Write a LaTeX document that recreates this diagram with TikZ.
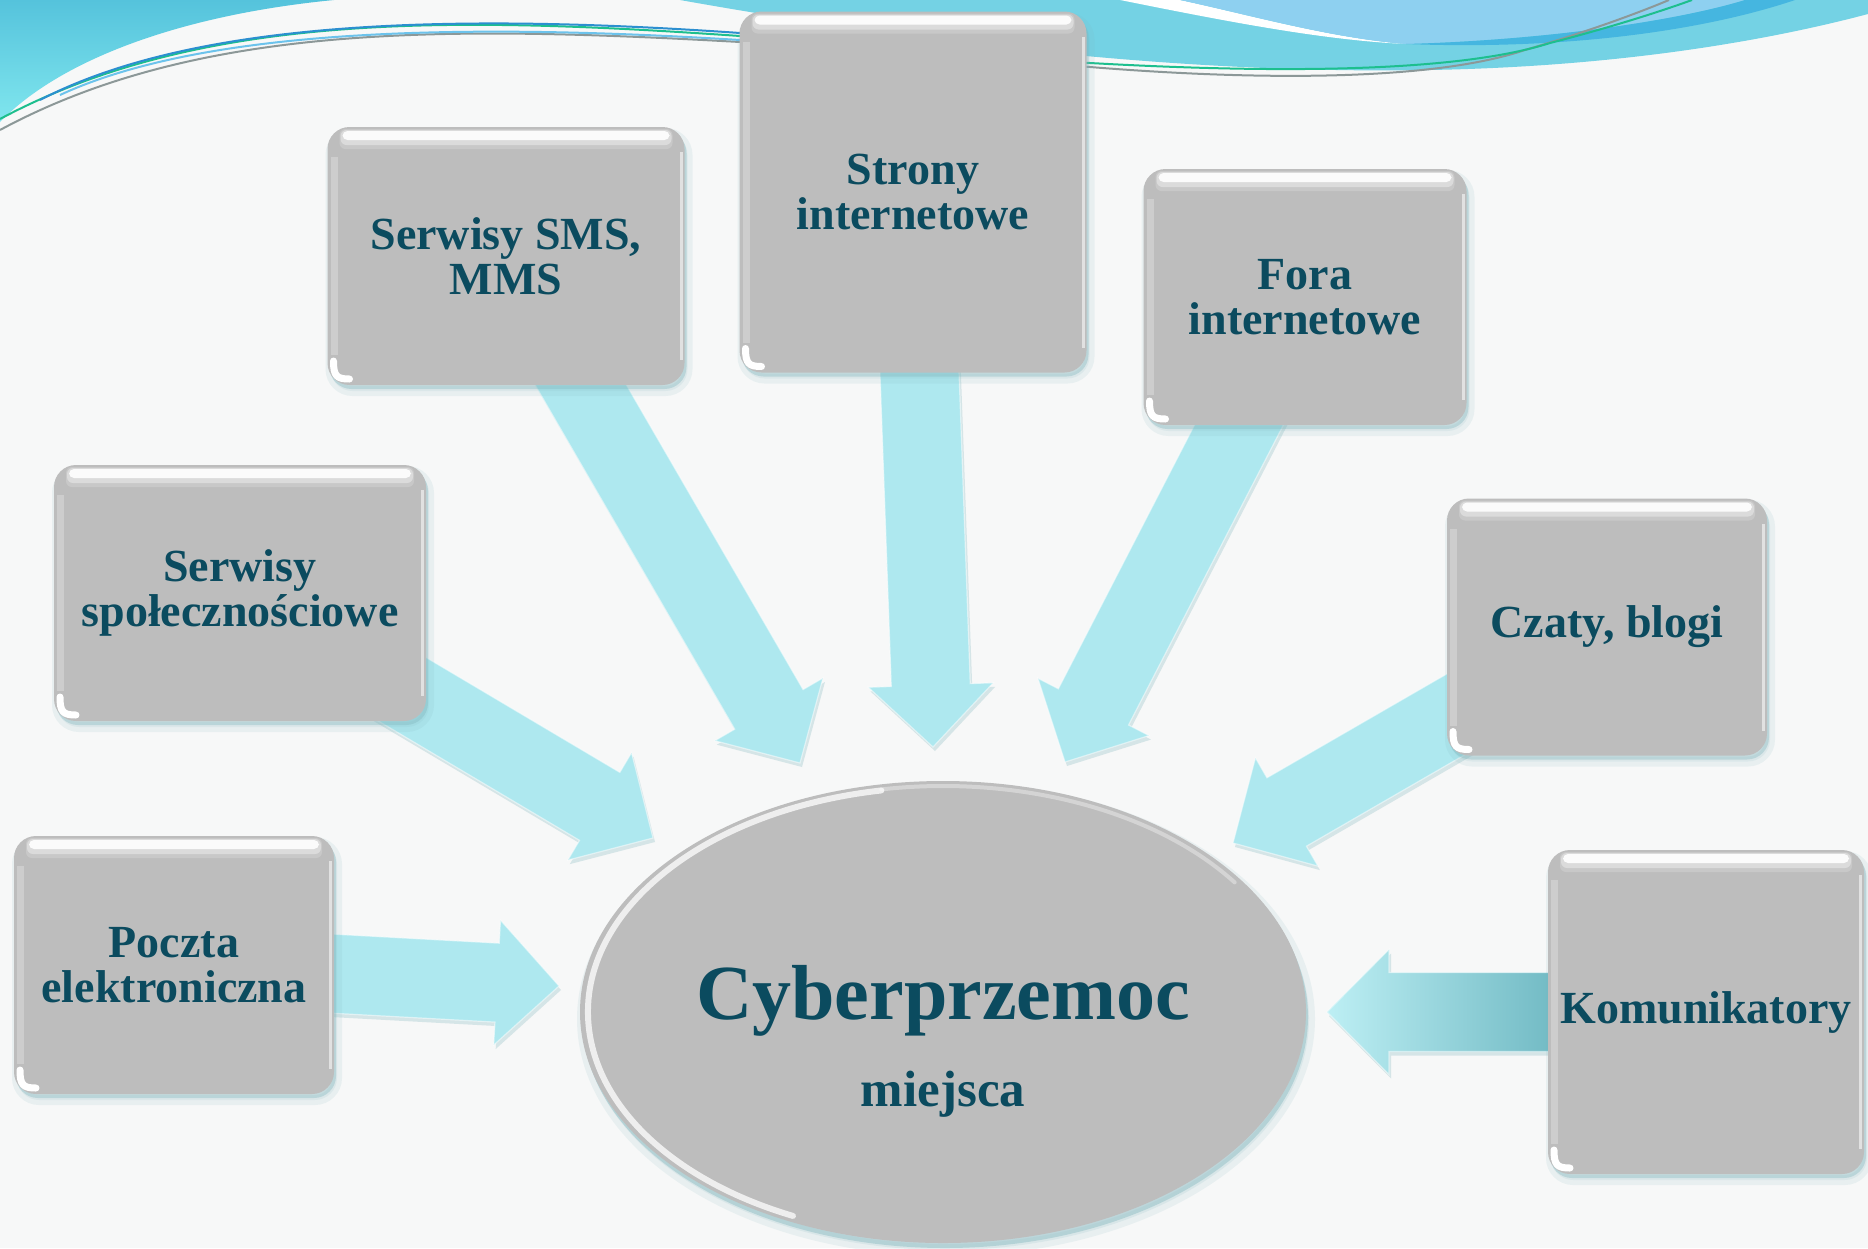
\documentclass[tikz,border=0pt]{standalone}
\usepackage{fontspec}
\setmainfont{Liberation Serif}
\usetikzlibrary{calc,shapes.geometric}
\pgfdeclarelayer{bg}
\pgfdeclarelayer{arr}
\pgfsetlayers{bg,arr,main}
\definecolor{bgcol}{HTML}{F7F8F8}
\definecolor{boxgray}{HTML}{BDBDBD}
\definecolor{txtcol}{HTML}{0B4B5F}
\definecolor{arrcol}{HTML}{AEE8EF}
\definecolor{shadowcol}{HTML}{7FB4BC}
\definecolor{wavecyan}{HTML}{74D2E4}
\definecolor{wavetop}{HTML}{55C3DC}
\definecolor{wavelow}{HTML}{80E6EE}
\definecolor{wavelblue}{HTML}{8ED0F0}
\definecolor{wavedblue}{HTML}{45B6E0}
\definecolor{linegreen}{HTML}{1DBF8E}
\definecolor{linegrey}{HTML}{8C9898}
\definecolor{lineblue}{HTML}{2C8FD0}
\definecolor{linelblue}{HTML}{6CC3EC}
\definecolor{komlight}{HTML}{BDEFF4}
\definecolor{komdark}{HTML}{3F97A4}

\newcommand{\fatarrow}[3][]{%
  \path ($(#3)!62pt!(#2)$) coordinate (hb);
  \path[arrowstyle,#1] ($(#2)!39.5pt!-90:(#3)$) -- ($(hb)!39.5pt!90:(#2)$) -- ($(hb)!62.5pt!90:(#2)$) -- (#3) -- ($(hb)!62.5pt!-90:(#2)$) -- ($(hb)!39.5pt!-90:(#2)$) -- ($(#2)!39.5pt!90:(#3)$) -- cycle;
}

\begin{document}
\begin{tikzpicture}[x=1pt,y=-1pt,
  arrowstyle/.style={fill=arrcol, draw=white, draw opacity=0.5, line width=1.2pt, line join=miter,
    preaction={fill=shadowcol, fill opacity=0.28, draw=none, transform canvas={shift={(2pt,-4pt)}}}},
  box/.style={rectangle, rounded corners=22pt, fill=boxgray, text=txtcol, align=center,
    font=\bfseries\fontsize{46pt}{45pt}\selectfont, inner sep=4pt,
    preaction={fill=shadowcol, fill opacity=0.12, draw=shadowcol, draw opacity=0.12, line width=10pt, transform canvas={shift={(3pt,-6pt)}}},
    preaction={fill=shadowcol, fill opacity=0.35, draw=none, transform canvas={shift={(2pt,-4pt)}}},
    path picture={
      \fill[white, opacity=0.18, rounded corners=6pt]
        ($(path picture bounding box.north west)+(12pt,-2pt)$) rectangle ($(path picture bounding box.north east)+(-12pt,-22pt)$);
      \fill[white, opacity=0.35, rounded corners=6pt]
        ($(path picture bounding box.north west)+(13pt,-3pt)$) rectangle ($(path picture bounding box.north east)+(-13pt,-18pt)$);
      \fill[white, opacity=0.9, rounded corners=5pt]
        ($(path picture bounding box.north west)+(15pt,-4pt)$) rectangle ($(path picture bounding box.north east)+(-15pt,-13pt)$);
      \fill[white, opacity=0.25, rounded corners=0pt]
        ($(path picture bounding box.north west)+(3pt,-30pt)$) rectangle ($(path picture bounding box.south west)+(10pt,30pt)$);
      \fill[white, opacity=0.55, rounded corners=0pt]
        ($(path picture bounding box.north east)+(-5pt,-25pt)$) rectangle ($(path picture bounding box.south east)+(-2pt,25pt)$);
      \draw[white, fill=none, line width=7pt, line cap=round, rounded corners=0pt]
        ($(path picture bounding box.south west)+(6pt,24pt)$) .. controls ($(path picture bounding box.south west)+(6pt,9pt)$) and ($(path picture bounding box.south west)+(9pt,6pt)$) .. ($(path picture bounding box.south west)+(22pt,6pt)$);
    }},
  big/.style={text=txtcol, inner sep=0pt, anchor=base}
]
\useasboundingbox (0,0) rectangle (1868,1248);

% ---------- background ----------
\begin{pgfonlayer}{bg}
\fill[bgcol] (0,0) rectangle (1868,1248);
% top band (right)
\fill[wavecyan] (680,0) .. controls (950,48) and (1200,74) .. (1430,70) .. controls (1650,66) and (1800,32) .. (1868,14) -- (1868,0) -- cycle;
\fill[white] (1120,0) .. controls (1220,20) and (1320,40) .. (1406,44) .. controls (1330,38) and (1250,15) .. (1180,0) -- cycle;
\fill[wavelblue] (1180,0) .. controls (1250,15) and (1330,38) .. (1406,44) .. controls (1550,40) and (1680,20) .. (1745,0) -- cycle;
\fill[wavedblue] (1406,44) .. controls (1550,40) and (1680,20) .. (1745,0) -- (1795,0) .. controls (1700,32) and (1560,50) .. (1406,44) -- cycle;
% top-left wave
\shade[top color=wavetop, bottom color=wavelow] (0,0) -- (334,0) .. controls (180,15) and (60,60) .. (0,122) -- cycle;
% lines
\draw[linegrey, line width=2pt] (0,130) .. controls (200,22) and (450,26) .. (740,42) .. controls (900,54) and (1000,62) .. (1090,67) .. controls (1250,80) and (1430,82) .. (1525,50) .. controls (1600,28) and (1650,8) .. (1669,0);
\draw[linegreen, line width=2pt] (0,119) .. controls (200,12) and (450,16) .. (740,36) .. controls (900,48) and (1000,58) .. (1090,63) .. controls (1250,72) and (1450,75) .. (1550,43) .. controls (1620,25) and (1670,8) .. (1692,0);
\draw[linelblue, line width=2pt] (60,95) .. controls (200,30) and (450,22) .. (740,40);
\draw[lineblue, line width=2pt] (40,100) .. controls (190,22) and (440,12) .. (740,33);
\end{pgfonlayer}

% ---------- central ellipse ----------
\node[ellipse, fill=boxgray, minimum width=726pt, minimum height=462pt, inner sep=0pt,
  preaction={fill=shadowcol, fill opacity=0.15, draw=shadowcol, draw opacity=0.12, line width=12pt, transform canvas={shift={(3pt,-7pt)}}},
  preaction={fill=shadowcol, fill opacity=0.4, draw=none, transform canvas={shift={(2pt,-5pt)}}}] (cyber) at (943,1012) {};
\draw[white, line width=6pt, opacity=0.75, line cap=round] ($(cyber.center)+(100:355pt and 225pt)$) arc[start angle=100, end angle=245, x radius=355pt, y radius=225pt];
\draw[white, line width=4pt, opacity=0.35, line cap=round] ($(cyber.center)+(35:356pt and 226pt)$) arc[start angle=35, end angle=100, x radius=356pt, y radius=226pt];
\node[big, font=\bfseries\fontsize{78pt}{80pt}\selectfont] (cybtitle) at (943,1019) {Cyberprzemoc};
\node[big, font=\bfseries\fontsize{51pt}{55pt}\selectfont] (cybsub) at (943,1106) {miejsca};

% ---------- boxes ----------
\node[box, minimum width=320pt, minimum height=258pt] (poczta) at (174,965) {Poczta\\elektroniczna};
\node[box, minimum width=372pt, minimum height=256pt] (spol) at (240,593) {Serwisy\\społecznościowe};
\node[box, minimum width=357pt, minimum height=258pt] (sms) at (506,256) {Serwisy SMS,\\MMS};
\node[box, minimum width=347pt, minimum height=361pt] (strony) at (913,192) {Strony\\internetowe};
\node[box, minimum width=323pt, minimum height=256pt] (fora) at (1305,297) {Fora\\internetowe};
\node[box, minimum width=320pt, minimum height=257pt] (czaty) at (1607,627) {Czaty, blogi};
\node[box, minimum width=316pt, minimum height=324pt] (komu) at (1706,1012) {Komunikatory};

% ---------- arrow tips ----------
\coordinate (tipA) at (559,986);
\coordinate (tipB) at (653,838);
\coordinate (tipC) at (800,763);
\coordinate (tipD) at (933,747);
\coordinate (tipE) at (1065,762);
\coordinate (tipF) at (1233,843);
\coordinate (tipG) at (1327,1012);

% ---------- arrows ----------
\begin{pgfonlayer}{arr}
\fatarrow{poczta.center}{tipA}
\fatarrow{spol.center}{tipB}
\fatarrow{sms.center}{tipC}
\fatarrow{strony.center}{tipD}
\fatarrow{fora.center}{tipE}
\fatarrow{czaty.center}{tipF}
\fatarrow[left color=komlight, right color=komdark]{komu.center}{tipG}
\end{pgfonlayer}
\end{tikzpicture}
\end{document}
